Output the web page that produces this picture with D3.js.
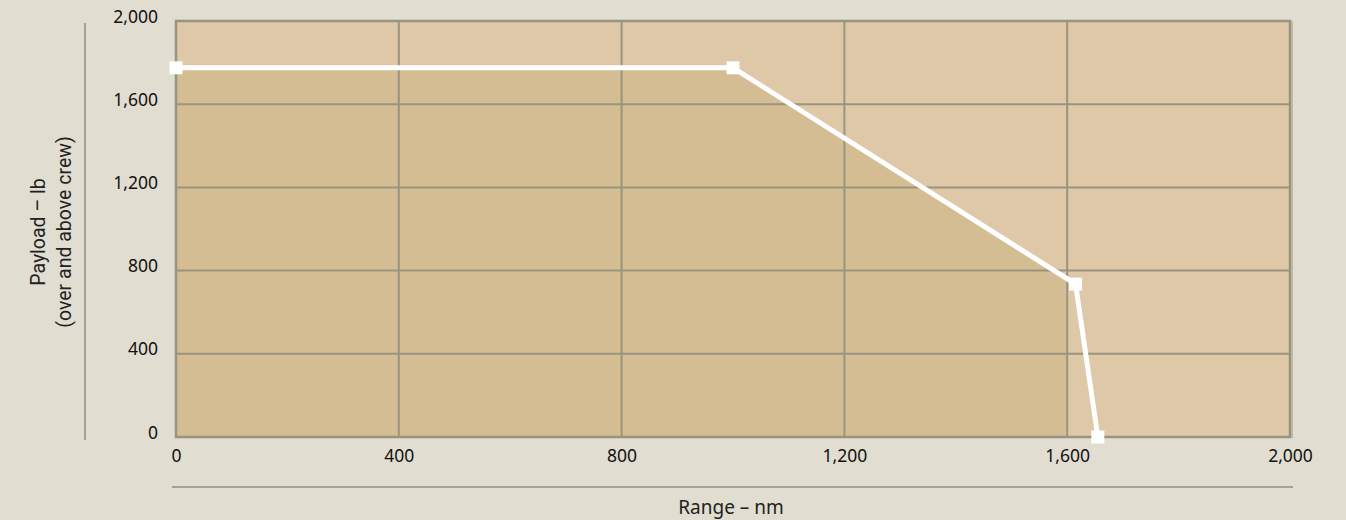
<!DOCTYPE html>
<html><head><meta charset="utf-8">
<script src="https://cdn.jsdelivr.net/npm/d3@7"></script>
<style>
html,body{margin:0;padding:0;background:#e1ddd0;}
svg{display:block;}
</style></head>
<body>
<div id="chart"></div>
<script>
const rangeNm = [0, 1000, 1615, 1655];
const payloadLb = [1775, 1775, 735, 0];
const xTicks = [0, 400, 800, 1200, 1600, 2000];
const yTicks = [0, 400, 800, 1200, 1600, 2000];
const darkFillLimit = 1600;

const W = 1346, H = 520;
const m = {left: 176, right: 56, top: 21, bottom: 83};
const svg = d3.select("#chart").append("svg").attr("width", W).attr("height", H);
svg.append("rect").attr("width", W).attr("height", H).attr("fill", "#e1ddd0");

const x = d3.scaleLinear().domain([0, 2000]).range([m.left, W - m.right]);
const y = d3.scaleLinear().domain([0, 2000]).range([H - m.bottom, m.top]);

const pts = rangeNm.map((r, i) => ({r, p: payloadLb[i]}));

// plot background
svg.append("rect").attr("x", x(0)).attr("y", y(2000))
  .attr("width", x(2000) - x(0)).attr("height", y(0) - y(2000))
  .attr("fill", "#dfc8a8");

svg.append("clipPath").attr("id", "clipDark").append("rect")
  .attr("x", x(0)).attr("y", y(2000))
  .attr("width", x(darkFillLimit) - x(0)).attr("height", y(0) - y(2000));

const area = d3.area().x(d => x(d.r)).y0(y(0)).y1(d => y(d.p));
svg.append("path").datum(pts).attr("d", area)
  .attr("fill", "#d4bc93").attr("clip-path", "url(#clipDark)");

// grid
const gridColor = "#99947f";
svg.append("g").selectAll("line").data(xTicks).join("line")
  .attr("x1", d => x(d)).attr("x2", d => x(d))
  .attr("y1", y(0)).attr("y2", y(2000))
  .attr("stroke", gridColor).attr("stroke-width", 2);
svg.append("g").selectAll("line").data(yTicks).join("line")
  .attr("x1", x(0)).attr("x2", x(2000))
  .attr("y1", d => y(d)).attr("y2", d => y(d))
  .attr("stroke", gridColor).attr("stroke-width", 2);
svg.append("rect").attr("x", x(0)).attr("y", y(2000))
  .attr("width", x(2000) - x(0)).attr("height", y(0) - y(2000))
  .attr("fill", "none").attr("stroke", gridColor).attr("stroke-width", 2.5);
// slight shadow on right edge
svg.append("line").attr("x1", x(2000) + 2).attr("x2", x(2000) + 2)
  .attr("y1", y(2000)).attr("y2", y(0) + 1)
  .attr("stroke", "#b3ae9c").attr("stroke-width", 1.5);

// line + markers
const line = d3.line().x(d => x(d.r)).y(d => y(d.p));
svg.append("path").datum(pts).attr("d", line)
  .attr("fill", "none").attr("stroke", "#ffffff").attr("stroke-width", 5)
  .attr("stroke-linejoin", "miter");
const ms = 13;
svg.append("g").selectAll("rect").data(pts).join("rect")
  .attr("x", d => x(d.r) - ms / 2).attr("y", d => y(d.p) - ms / 2)
  .attr("width", ms).attr("height", ms).attr("fill", "#ffffff");

// axes (tick labels via d3 axes)
const fmt = d3.format(",");
const tickFont = "'Noto Sans', 'Open Sans', sans-serif";
const yAxis = svg.append("g").attr("transform", `translate(${m.left - 18},1)`)
  .call(d3.axisLeft(y).tickValues(yTicks).tickFormat(fmt).tickSize(0).tickPadding(0));
yAxis.select(".domain").remove();
yAxis.selectAll("text").attr("font-family", tickFont).attr("font-size", 17.5)
  .attr("fill", "#111").attr("dy", "0.0em");

const xAxis = svg.append("g").attr("transform", `translate(0,${y(0) + 10})`)
  .call(d3.axisBottom(x).tickValues(xTicks).tickFormat(fmt).tickSize(0).tickPadding(0));
xAxis.select(".domain").remove();
xAxis.selectAll("text").attr("font-family", tickFont).attr("font-size", 17.5)
  .attr("fill", "#111").attr("dy", "0.85em");

// decorative rules
svg.append("line").attr("x1", 85).attr("x2", 85).attr("y1", 23).attr("y2", 440)
  .attr("stroke", "#a6a290").attr("stroke-width", 2);
svg.append("line").attr("x1", 172).attr("x2", 1293).attr("y1", 487).attr("y2", 487)
  .attr("stroke", "#a6a290").attr("stroke-width", 2);

// titles
const titleFont = "Roboto, 'Liberation Sans', sans-serif";
svg.append("text").attr("transform", "translate(45,232) rotate(-90)")
  .attr("text-anchor", "middle").attr("font-family", titleFont).attr("font-size", 19.5)
  .attr("fill", "#222").text("Payload – lb");
svg.append("text").attr("transform", "translate(71,232) rotate(-90)")
  .attr("text-anchor", "middle").attr("font-family", titleFont).attr("font-size", 19.5)
  .attr("fill", "#222").text("(over and above crew)");
svg.append("text").attr("x", 731).attr("y", 514)
  .attr("text-anchor", "middle").attr("font-family", tickFont).attr("font-size", 19)
  .attr("fill", "#222").text("Range – nm");
</script>
</body></html>
